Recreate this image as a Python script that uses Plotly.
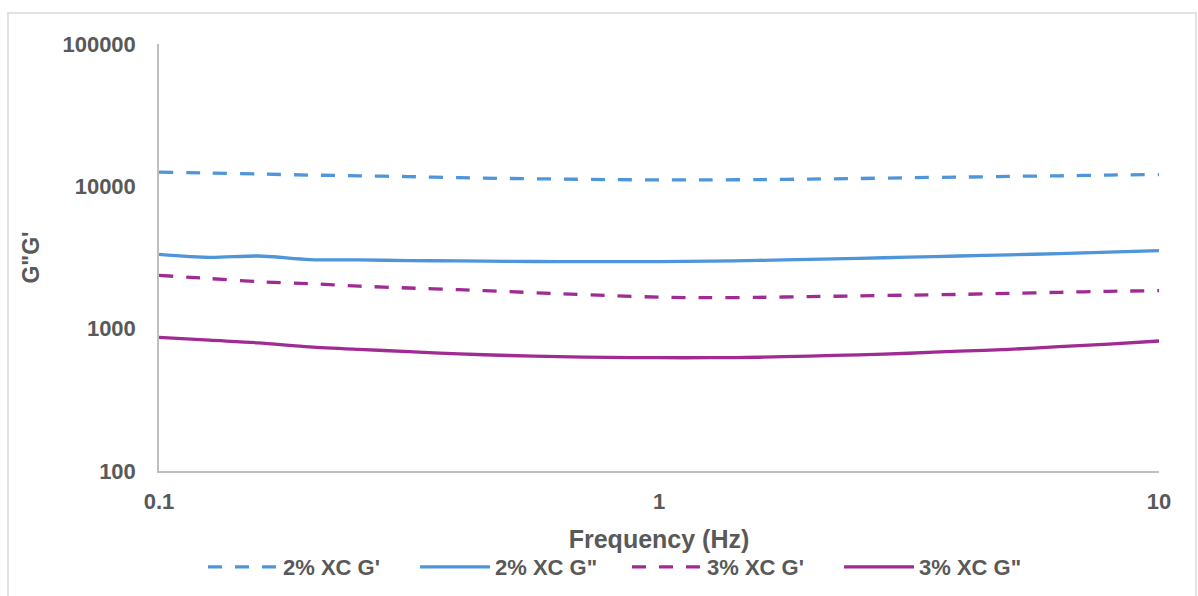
import plotly.graph_objects as go

freq = [0.1, 0.126, 0.158, 0.2, 0.251, 0.316, 0.398, 0.501, 0.631, 0.794, 1.0,
        1.26, 1.58, 2.0, 2.51, 3.16, 3.98, 5.01, 6.31, 7.94, 10.0]

g2_storage = [12600, 12400, 12200, 12000, 11850, 11700, 11500, 11350, 11250, 11150, 11100,
              11100, 11150, 11250, 11350, 11500, 11600, 11750, 11850, 12000, 12100]
g2_loss = [3330, 3170, 3240, 3060, 3040, 3010, 2990, 2970, 2960, 2955, 2960,
           2980, 3020, 3070, 3120, 3180, 3240, 3300, 3370, 3450, 3530]
g3_storage = [2370, 2250, 2140, 2070, 1990, 1930, 1880, 1820, 1760, 1710, 1665,
              1650, 1660, 1680, 1700, 1720, 1740, 1770, 1800, 1830, 1850]
g3_loss = [870, 830, 795, 745, 715, 690, 665, 648, 636, 628, 625,
           625, 630, 642, 655, 672, 695, 715, 748, 780, 819]

names = ["2% XC G'", '2% XC G"', "3% XC G'", '3% XC G"']
x_ticks = [0.1, 1, 10]
x_ticktext = ["0.1", "1", "10"]
y_ticks = [100, 1000, 10000, 100000]
y_ticktext = ["100", "1000", "10000", "100000"]

BLUE = "#4E95D9"
PURPLE = "#A02B93"
TXT = "#595959"
FONT = "Liberation Sans"

fig = go.Figure()
series = [
    (g2_storage, BLUE, "14px,13px"),
    (g2_loss, BLUE, "solid"),
    (g3_storage, PURPLE, "14px,13px"),
    (g3_loss, PURPLE, "solid"),
]
for (vals, col, dash), nm in zip(series, names):
    fig.add_trace(go.Scatter(
        x=freq, y=vals, name=nm, mode="lines",
        line=dict(color=col, width=3.3, dash=dash, shape="spline", smoothing=0.8),
    ))

fig.update_layout(
    width=1198, height=596,
    margin=dict(l=159, r=39, t=44, b=125, autoexpand=False),
    paper_bgcolor="white", plot_bgcolor="white",
    font=dict(family=FONT, color=TXT, size=18),
    showlegend=True,
    legend=dict(
        orientation="h", x=0.468, xanchor="center", y=-0.225, yanchor="middle",
        font=dict(family=FONT, size=22, color=TXT, weight="bold"),
        itemwidth=70,
        entrywidth=127, entrywidthmode="pixels",
        bgcolor="rgba(0,0,0,0)",
    ),
    xaxis=dict(
        type="log", range=[-1, 1],
        tickvals=x_ticks, ticktext=x_ticktext,
        showgrid=False, zeroline=False,
        showline=True, linecolor="#BFBFBF", linewidth=1.5,
        ticks="", ticklabelstandoff=10,
        tickfont=dict(family=FONT, size=22, color=TXT, weight="bold"),
        title=dict(text="Frequency (Hz)", standoff=17,
                   font=dict(family=FONT, size=25, color=TXT, weight="bold")),
    ),
    yaxis=dict(
        type="log", range=[2, 5],
        tickvals=y_ticks, ticktext=y_ticktext,
        showgrid=False, zeroline=False,
        showline=True, linecolor="#BFBFBF", linewidth=1.5,
        ticks="", ticklabelstandoff=17,
        tickfont=dict(family=FONT, size=22, color=TXT, weight="bold"),
        title=dict(text="G\"G'", standoff=16,
                   font=dict(family=FONT, size=23, color=TXT, weight="bold")),
    ),
    shapes=[dict(
        type="rect", xref="paper", yref="paper",
        x0=-0.151, x1=1.037, y0=-0.31, y1=1.0726,
        line=dict(color="#D9D9D9", width=1.5), fillcolor="rgba(0,0,0,0)", layer="below",
    )],
)

fig.write_html("out.html")
